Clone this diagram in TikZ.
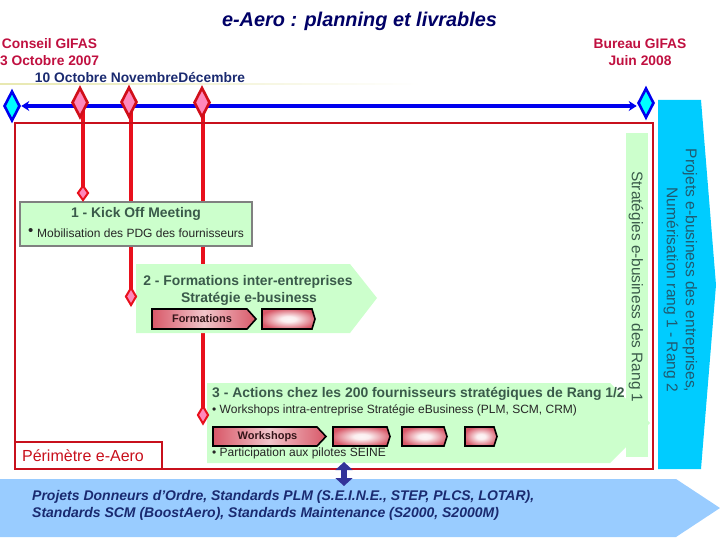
\documentclass[tikz,border=0pt]{standalone}
\usepackage{fontspec}
\setmainfont{Liberation Sans}
\usetikzlibrary{shapes.geometric,arrows.meta}
\pgfdeclarelayer{under}
\pgfsetlayers{under,main}
\definecolor{navyT}{HTML}{000066}
\definecolor{crim}{HTML}{C01040}
\definecolor{navyS}{HTML}{1A2A70}
\definecolor{greenF}{HTML}{CCFFCC}
\definecolor{greenT}{HTML}{3A5A4A}
\definecolor{redL}{HTML}{E8101C}
\definecolor{frameR}{HTML}{C8101C}
\definecolor{pinkF}{HTML}{FF88BB}
\definecolor{roseE}{HTML}{D85868}
\definecolor{blueL}{HTML}{0000EE}
\definecolor{cyanD}{HTML}{00FFFF}
\definecolor{cyanB}{HTML}{00CCFF}
\definecolor{skyB}{HTML}{99CCFF}
\definecolor{arrowV}{HTML}{333399}
\definecolor{bandT}{HTML}{1F5A70}
\definecolor{sepY}{HTML}{E8E8B0}
\pgfdeclareradialshading{minirose}{\pgfpointorigin}{
  color(0bp)=(white!95!roseE); color(7bp)=(white!90!roseE); color(27bp)=(roseE); color(50bp)=(roseE)}
\tikzset{
  x=1pt,y=-1pt,
  bigdiamond/.style={diamond,draw=blueL,line width=2.6pt,fill=cyanD,inner sep=0pt,minimum width=16pt,minimum height=30pt},
  pinkdiamond/.style={diamond,draw=redL!90!black,line width=2.6pt,fill=pinkF,inner sep=0pt,minimum width=16pt,minimum height=30pt},
  tinydiamond/.style={diamond,draw=redL,line width=2pt,fill=pinkF,inner sep=0pt},
  redline/.style={draw=redL,line width=4pt},
  crimlabel/.style={font=\bfseries\fontsize{13.8}{15}\selectfont,text=crim,inner sep=0pt},
  steplabel/.style={font=\bfseries\fontsize{13.9}{15}\selectfont,text=greenT,inner sep=0pt},
  smalltext/.style={font=\fontsize{12}{13}\selectfont,text=black!85,inner sep=0pt},
  chevgreen/.style={fill=greenF,draw=none},
  minichev/.style={draw=black,line width=1.6pt,shading=minirose},
  minichevlong/.style={draw=black,line width=1.6pt,left color=roseE,right color=roseE,middle color=white!65!roseE},
  minilabel/.style={font=\bfseries\fontsize{11}{12}\selectfont,text=black!60!roseE!60!black,inner sep=0pt},
  bandlabel/.style={rotate=-90,inner sep=0pt},
}
\begin{document}
\begin{tikzpicture}
\useasboundingbox (0,0) rectangle (720,540);

% title
\node[font=\bfseries\itshape\fontsize{19.9}{22}\selectfont,text=navyT,inner sep=0pt] (title) at (359.5,21) {e-Aero : planning et livrables};

% top labels
\node[crimlabel] (conseil) at (49.5,44) {Conseil GIFAS};
\node[crimlabel] (octobre) at (49.5,61) {3 Octobre 2007};
\node[crimlabel,text=navyS] (mois) at (140,78) {10 Octobre NovembreDécembre};
\node[crimlabel] (bureau) at (640,44) {Bureau GIFAS};
\node[crimlabel] (juin) at (640,61) {Juin 2008};
\shade[left color=sepY,right color=white] (0,83.6) rectangle (420,84.4);

% side band (cyan)
\fill[cyanB] (658,100) -- (701,100) -- (716,285) -- (701,469) -- (658,469) -- cycle;
\node[bandlabel,align=right,font=\fontsize{15.6}{19}\selectfont,text=bandT] (projets) at (680.5,270.5) {Projets e-business des entreprises,\\Numérisation rang 1 - Rang 2};

% perimeter frame
\draw[frameR,line width=1.8pt] (15,123) rectangle (653,469);
\node[draw=frameR,line width=1.8pt,minimum width=147pt,minimum height=27pt,inner sep=0pt] (perimetre) at (88.5,455.5) {};
\node[inner sep=0pt,font=\fontsize{16}{18}\selectfont,text=frameR] (perimtext) at (83,456) {Périmètre e-Aero};

% step 3
\fill[chevgreen] (207,383) -- (610,383) -- (650,423) -- (610,463) -- (207,463) -- cycle;
% vertical band green
\fill[greenF] (626,133) rectangle (648,457);
\node[bandlabel,font=\fontsize{15.4}{17}\selectfont,text=greenT] (strategies) at (636,287) {Stratégies e-business des Rang 1};

% step 1
\node[draw=black!50,line width=2pt,fill=greenF,minimum width=232pt,minimum height=44pt,inner sep=0pt] (kick) at (136,224) {};
\node[steplabel] (kicktitle) at (136,214) {1 - Kick Off Meeting};
\node[smalltext,anchor=west] (kickbullet) at (28,232) {\fontsize{15}{15}\selectfont •};
\node[smalltext,anchor=west] (kicktext) at (37,233.5) {Mobilisation des PDG des fournisseurs};

% step 2
\fill[chevgreen] (136,264) -- (350,264) -- (377,298) -- (350,333) -- (136,333) -- cycle;
\node[steplabel] (formtitle) at (248,282) {2 - Formations inter-entreprises};
\node[steplabel] (formsub) at (249,299) {Stratégie e-business};
\path[minichevlong] (152,309) -- (247,309) -- (256,319) -- (247,329) -- (152,329) -- cycle;
\node[minilabel] (formations) at (202,319) {Formations};
\path[minichev] (262,309) -- (312,309) -- (315,319) -- (312,329) -- (262,329) -- cycle;

% step 3 texts
\node[steplabel,anchor=west] (actions) at (212,393.5) {3 - Actions chez les 200 fournisseurs stratégiques de Rang 1/2};
\node[smalltext,anchor=west] (workshopstext) at (212,410) {• Workshops intra-entreprise Stratégie eBusiness (PLM, SCM, CRM)};
\path[minichevlong] (213,427) -- (317,427) -- (326,436.5) -- (317,446) -- (213,446) -- cycle;
\node[minilabel] (workshops) at (267.5,436.5) {Workshops};
\path[minichev] (333,427) -- (387,427) -- (390,436.5) -- (387,446) -- (333,446) -- cycle;
\path[minichev] (402,427) -- (444,427) -- (447,436.5) -- (444,446) -- (402,446) -- cycle;
\path[minichev] (465,427) -- (494,427) -- (497,436.5) -- (494,446) -- (465,446) -- cycle;
\node[smalltext,anchor=west] (participation) at (212,453) {• Participation aux pilotes SEINE};

% bottom arrow
\fill[skyB] (0,479) -- (676,479) -- (720,508) -- (676,537) -- (0,537) -- cycle;
\node[inner sep=0pt,anchor=north west,align=left,font=\bfseries\itshape\fontsize{14}{17}\selectfont,text=navyS] (standards) at (32,490) {Projets Donneurs d'Ordre, Standards PLM (S.E.I.N.E., STEP, PLCS, LOTAR),\\Standards SCM (BoostAero), Standards Maintenance (S2000, S2000M)};

% milestones
\node[bigdiamond] (m0) at (12,106) {};
\node[bigdiamond] (m4) at (646,103) {};
\node[pinkdiamond] (m1) at (80,102.5) {};
\node[pinkdiamond] (m2) at (129,102) {};
\node[pinkdiamond] (m3) at (202,102.5) {};
\node[tinydiamond,minimum width=11pt,minimum height=15pt] (s1) at (83,193) {};
\node[tinydiamond,minimum width=11pt,minimum height=18pt] (s2) at (131,296.5) {};
\node[tinydiamond,minimum width=11pt,minimum height=18pt] (s3) at (203,415) {};
\coordinate (gateTop) at (344,462);
\coordinate (gateBottom) at (344,486);

% connectors
\begin{pgfonlayer}{under}
\draw[draw=blueL,line width=3.6pt,{Stealth[length=8pt,width=10pt]}-{Stealth[length=8pt,width=10pt]}] (m0.east |- 0,106) -- (m4.west |- 0,106);
\draw[redline] (m1.center -| s1.center) -- (s1.center);
\draw[redline] (m2.center -| s2.center) -- (s2.center);
\draw[redline] (m3.center -| s3.center) -- (s3.center);
\end{pgfonlayer}
\draw[draw=arrowV,line width=5.5pt,{Triangle[length=8pt,width=17pt]}-{Triangle[length=8pt,width=17pt]}] (gateTop) -- (gateBottom);
\end{tikzpicture}
\end{document}
